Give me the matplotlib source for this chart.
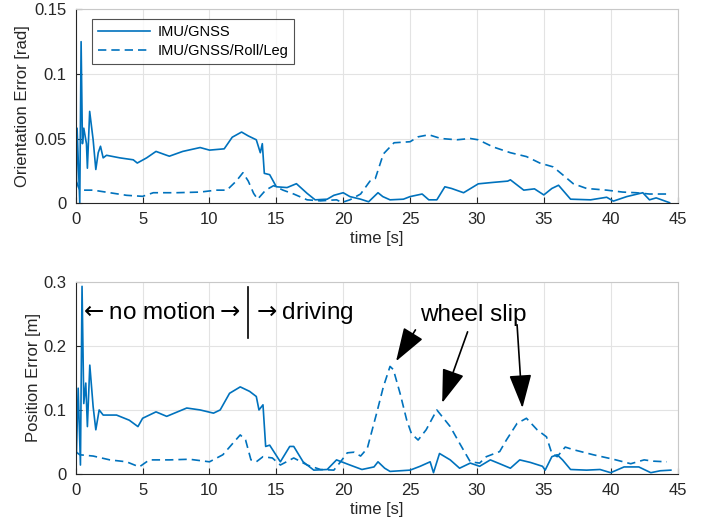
import matplotlib
matplotlib.use('Agg')
import matplotlib.pyplot as plt

plt.rcParams['font.family'] = ['Liberation Sans', 'DejaVu Sans']
plt.rcParams['mathtext.fontset'] = 'dejavusans'

# orientation error, IMU/GNSS
t_ori_a = [0.05, 0.1, 0.3, 0.4, 0.5, 0.6, 0.8, 0.87, 1.04, 1.3, 1.5, 1.68, 1.85, 2.05, 2.3, 3.3, 4.3, 4.6,
           5.3, 6.0, 6.8, 7.0, 8.0, 9.3, 10.0, 11.1, 11.7, 12.4, 12.9, 13.5, 13.8, 13.95, 14.1, 14.5, 15.0,
           15.8, 16.5, 17.3, 17.9, 18.8, 19.3, 20.0, 20.5, 21.3, 21.9, 22.6, 22.96, 23.5, 24.5, 25.0, 25.9,
           26.4, 27.0, 27.6, 28.1, 29.0, 30.1, 31.2, 32.3, 32.5, 33.5, 34.3, 35.0, 35.6, 36.1, 37.0, 38.5,
           39.7, 40.2, 41.2, 42.4, 42.9, 43.4, 44.4]
ori_a = [0.0126, 0.058, 0.0, 0.125, 0.046, 0.058, 0.046, 0.027, 0.071, 0.049, 0.026, 0.039, 0.044, 0.035,
         0.037, 0.035, 0.0335, 0.031, 0.035, 0.040, 0.037, 0.0363, 0.040, 0.043, 0.041, 0.042, 0.051, 0.055,
         0.052, 0.049, 0.039, 0.046, 0.023, 0.022, 0.0126, 0.012, 0.015, 0.0075, 0.0025, 0.003, 0.006, 0.008,
         0.005, 0.003, 0.001, 0.008, 0.005, 0.0025, 0.003, 0.005, 0.007, 0.0025, 0.0025, 0.0126, 0.0113,
         0.008, 0.0149, 0.016, 0.017, 0.018, 0.010, 0.011, 0.0063, 0.0113, 0.0138, 0.003, 0.0025, 0.0045,
         0.0015, 0.005, 0.008, 0.0025, 0.004, 0.0003]

# orientation error, IMU/GNSS/Roll/Leg
t_ori_b = [0.05, 0.3, 0.8, 1.3, 2.55, 3.8, 5.0, 5.8, 7.5, 9.3, 10.5, 11.3, 12.0, 12.5, 12.9, 13.3, 13.6,
           14.2, 14.8, 15.5, 16.3, 17.3, 18.3, 19.5, 19.9, 20.5, 21.3, 22.0, 22.4, 23.0, 23.8, 25.0, 25.6,
           26.4, 27.3, 28.5, 29.5, 30.1, 31.2, 32.5, 33.7, 34.7, 35.7, 36.4, 37.2, 38.2, 39.7, 40.9, 41.9,
           42.9, 44.4]
ori_b = [0.0165, 0.010, 0.010, 0.010, 0.008, 0.006, 0.0052, 0.008, 0.008, 0.0085, 0.010, 0.010, 0.017,
         0.0235, 0.017, 0.0075, 0.003, 0.010, 0.0135, 0.010, 0.007, 0.0025, 0.0017, 0.0025, 0.0005, 0.0025,
         0.007, 0.017, 0.019, 0.038, 0.0467, 0.0475, 0.0513, 0.0529, 0.050, 0.049, 0.050, 0.049, 0.0435,
         0.039, 0.036, 0.031, 0.028, 0.022, 0.015, 0.0113, 0.010, 0.0085, 0.008, 0.007, 0.007]

# position error, IMU/GNSS
t_pos_a = [0.05, 0.18, 0.35, 0.47, 0.6, 0.75, 0.87, 1.05, 1.3, 1.5, 1.75, 2.05, 3.05, 4.0, 4.65, 5.0, 6.0,
           6.8, 8.3, 9.3, 10.3, 10.8, 11.5, 12.3, 13.0, 13.5, 13.7, 14.0, 14.2, 14.5, 15.3, 16.0, 16.3, 17.0,
           17.8, 18.8, 19.5, 20.5, 21.4, 22.3, 22.6, 23.1, 23.5, 25.0, 25.75, 26.5, 26.75, 27.2, 28.0, 28.7,
           29.5, 30.2, 31.0, 31.7, 32.5, 33.2, 34.0, 34.9, 35.1, 35.6, 36.0, 36.4, 37.0, 38.2, 39.2, 40.0,
           41.0, 42.1, 43.0, 43.7, 44.5]
pos_a = [0.032, 0.134, 0.014, 0.293, 0.110, 0.142, 0.074, 0.170, 0.105, 0.069, 0.100, 0.092, 0.092, 0.084,
         0.074, 0.087, 0.097, 0.090, 0.103, 0.100, 0.095, 0.100, 0.126, 0.136, 0.129, 0.121, 0.100, 0.108,
         0.043, 0.045, 0.019, 0.043, 0.043, 0.019, 0.006, 0.007, 0.022, 0.014, 0.007, 0.011, 0.019, 0.009,
         0.004, 0.006, 0.012, 0.019, 0.002, 0.032, 0.022, 0.009, 0.017, 0.012, 0.022, 0.016, 0.009, 0.022,
         0.018, 0.012, 0.006, 0.027, 0.030, 0.022, 0.007, 0.006, 0.007, 0.002, 0.011, 0.011, 0.002, 0.005,
         0.006]

# position error, IMU/GNSS/Roll/Leg
t_pos_b = [0.05, 0.3, 1.3, 2.55, 3.8, 4.75, 5.5, 7.0, 8.5, 10.0, 11.0, 11.75, 12.3, 12.7, 13.1, 13.5, 14.0,
           14.7, 15.3, 16.3, 17.3, 18.3, 19.3, 19.8, 20.3, 20.8, 21.3, 21.8, 22.5, 23.0, 23.5, 23.75, 24.25,
           24.75, 25.1, 25.6, 26.2, 27.0, 28.0, 28.7, 29.5, 30.2, 30.7, 31.7, 32.2, 33.0, 33.7, 34.5, 35.2,
           35.6, 36.0, 36.6, 37.2, 38.7, 40.2, 41.5, 42.5, 43.2, 44.2]
pos_b = [0.034, 0.030, 0.028, 0.022, 0.019, 0.011, 0.022, 0.022, 0.023, 0.019, 0.030, 0.048, 0.061, 0.053,
         0.022, 0.019, 0.027, 0.025, 0.014, 0.025, 0.014, 0.007, 0.006, 0.019, 0.033, 0.034, 0.028, 0.040,
         0.095, 0.136, 0.168, 0.163, 0.126, 0.084, 0.063, 0.053, 0.069, 0.100, 0.074, 0.048, 0.019, 0.017,
         0.027, 0.035, 0.053, 0.079, 0.087, 0.069, 0.058, 0.032, 0.027, 0.042, 0.038, 0.030, 0.023, 0.016,
         0.022, 0.020, 0.019]

x_ticks = [0, 5, 10, 15, 20, 25, 30, 35, 40, 45]
ori_ticks = [0, 0.05, 0.1, 0.15]
ori_labels = ['0', '0.05', '0.1', '0.15']
pos_ticks = [0, 0.1, 0.2, 0.3]
pos_labels = ['0', '0.1', '0.2', '0.3']

blue = '#0072BD'
dash = (0, (5, 3))

fig = plt.figure(figsize=(7.08, 5.22), dpi=100)
ax1 = fig.add_axes([0.107, 0.611, 0.850, 0.371])
ax2 = fig.add_axes([0.107, 0.092, 0.850, 0.368])


def style(ax, yt, yl, ylim):
    ax.set_xlim(0, 45)
    ax.set_ylim(*ylim)
    ax.set_xticks(x_ticks)
    ax.set_yticks(yt)
    ax.set_yticklabels(yl)
    ax.grid(True, color='#e3e3e3', lw=0.8)
    ax.set_axisbelow(True)
    ax.tick_params(direction='in', length=4, width=0.8, labelsize=12, colors='#262626',
                   top=False, right=False, pad=6.5)
    for s in ['left', 'bottom']:
        ax.spines[s].set_color('#262626')
        ax.spines[s].set_linewidth(0.8)
    for s in ['top', 'right']:
        ax.spines[s].set_color('#c8c8c8')
        ax.spines[s].set_linewidth(0.8)
    ax.set_xlabel('time [s]', fontsize=12, color='#262626', labelpad=3)


ax1.plot(t_ori_a, ori_a, color=blue, lw=1.2, label='IMU/GNSS')
ax1.plot(t_ori_b, ori_b, color=blue, lw=1.2, ls=dash, label='IMU/GNSS/Roll/Leg')
style(ax1, ori_ticks, ori_labels, (0, 0.15))
ax1.set_ylabel('Orientation Error [rad]', fontsize=12, color='#262626', labelpad=3)
leg = ax1.legend(loc='upper left', bbox_to_anchor=(0.027, 0.948), fontsize=10.5, frameon=True,
                 fancybox=False, edgecolor='#262626', handlelength=3.6, handletextpad=0.5,
                 borderpad=0.4, labelspacing=0.3, borderaxespad=0)
leg.get_frame().set_linewidth(0.8)

ax2.plot(t_pos_a, pos_a, color=blue, lw=1.2)
ax2.plot(t_pos_b, pos_b, color=blue, lw=1.2, ls=dash)
style(ax2, pos_ticks, pos_labels, (0, 0.3))
ax2.set_ylabel('Position Error [m]', fontsize=12, color='#262626', labelpad=2)

# annotations
ax2.text(0.25, 0.252, r'$\leftarrow$no motion$\rightarrow$', fontsize=17.5, va='center', ha='left')
ax2.plot([12.85, 12.85], [0.2125, 0.292], color='k', lw=1.2)
ax2.text(13.2, 0.252, r'$\rightarrow$driving', fontsize=17.5, va='center', ha='left')
ax2.text(29.7, 0.248, 'wheel slip', fontsize=17.5, va='center', ha='center')
arrows = [((25.4, 0.225), (23.95, 0.176)),
          ((29.3, 0.222), (27.4, 0.111)),
          ((33.0, 0.233), (33.4, 0.103))]
for start, end in arrows:
    ax2.annotate('', xy=end, xytext=start,
                 arrowprops=dict(arrowstyle='-|>,head_length=1.5,head_width=0.5', color='k',
                                 lw=1.2, shrinkA=0, shrinkB=0, mutation_scale=14))

fig.savefig('out.png', dpi=100)
